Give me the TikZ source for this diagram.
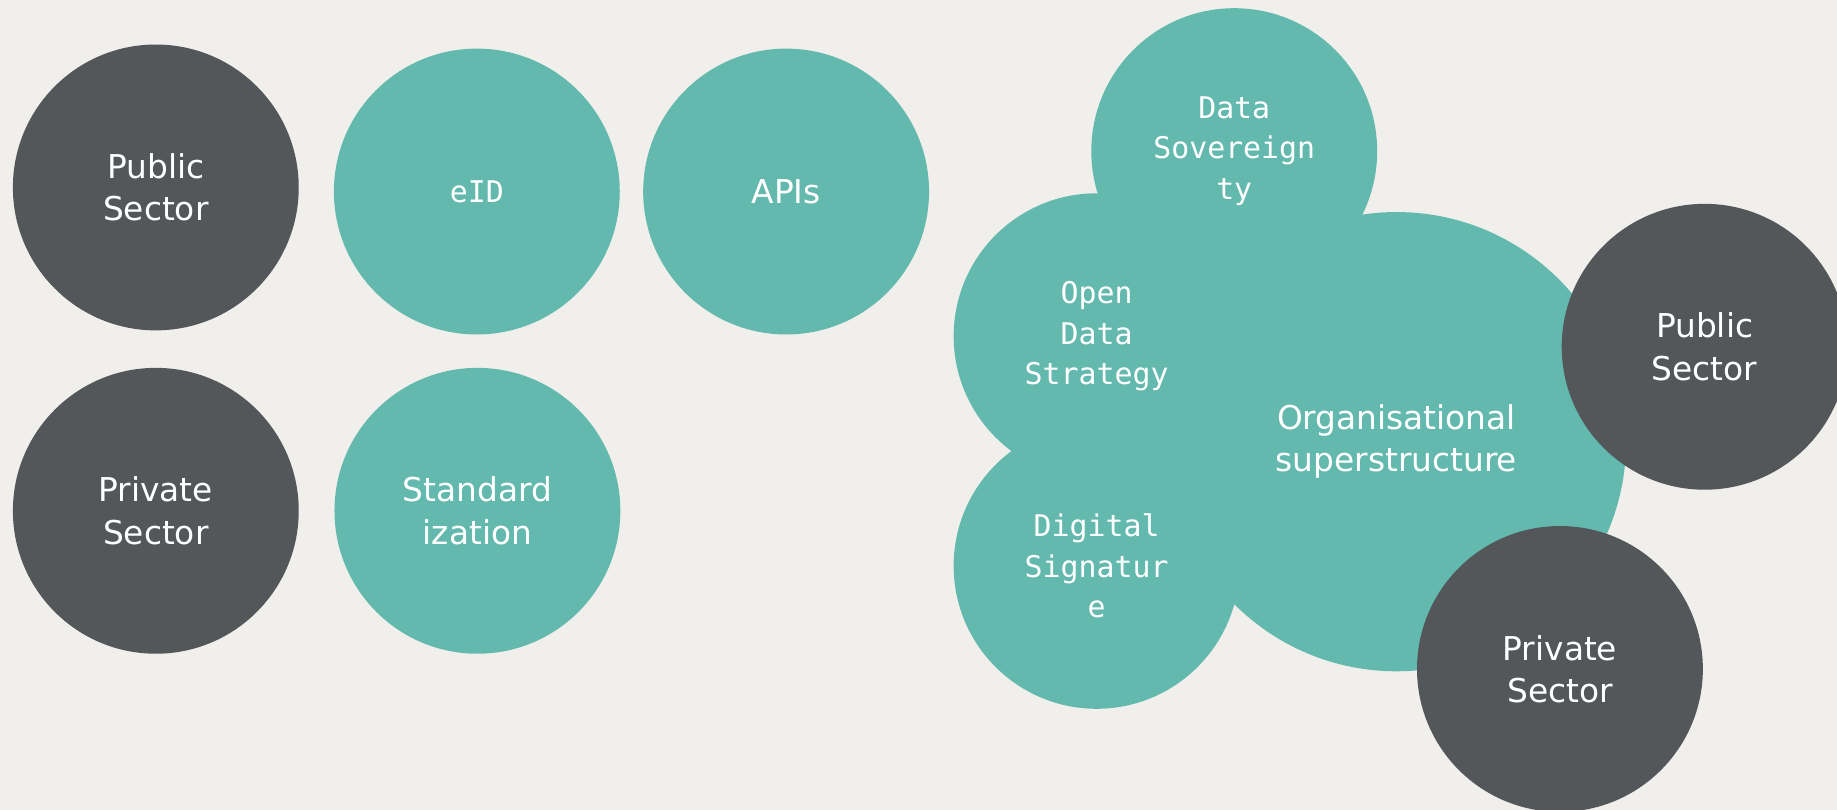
\documentclass[tikz,border=0pt]{standalone}
\usepackage{fontspec}
\setmainfont{DejaVu Sans}
\newfontfamily\monofont{DejaVu Sans Mono}
\definecolor{bgcol}{HTML}{F0EFEB}
\definecolor{circteal}{HTML}{64B9AE}
\definecolor{circgrey}{HTML}{53575A}
\begin{document}
\begin{tikzpicture}[x=1pt, y=1pt,
  bubble/.style={circle, fill=circteal, text=white, minimum size=244pt, inner sep=0pt, align=center, font=\fontsize{28}{36}\selectfont},
  monobubble/.style={bubble, font=\monofont\fontsize{25.5}{34.5}\selectfont},
  darkbubble/.style={bubble, fill=circgrey}]

\useasboundingbox (0, 0) rectangle (1568, 691);
\clip (0, 0) rectangle (1568, 691);
\fill [bgcol] (0, 0) rectangle (1568, 691);

% left block
\node [darkbubble] (pubL) at (133, 531) {Public\\Sector};
\node [monobubble] (eid) at (407, 527.5) {eID};
\node [bubble] (apis) at (671, 527.5) {APIs};
\node [darkbubble] (privL) at (133, 255) {Private\\Sector};
\node [bubble] (std) at (407.5, 255) {Standard\\ization};

% right cluster
\node [bubble, minimum size=392pt] (org) at (1192, 314) {Organisational\\superstructure};
\node [monobubble] (datasov) at (1053.5, 562) {Data\\Sovereign\\ty};
\node [monobubble] (opendata) at (936, 404) {Open\\Data\\Strategy};
\node [monobubble] (digsig) at (936, 208) {Digital\\Signatur\\e};
\node [darkbubble] (pubR) at (1455, 395) {Public\\Sector};
\node [darkbubble] (privR) at (1331.5, 120) {Private\\Sector};
\end{tikzpicture}
\end{document}
